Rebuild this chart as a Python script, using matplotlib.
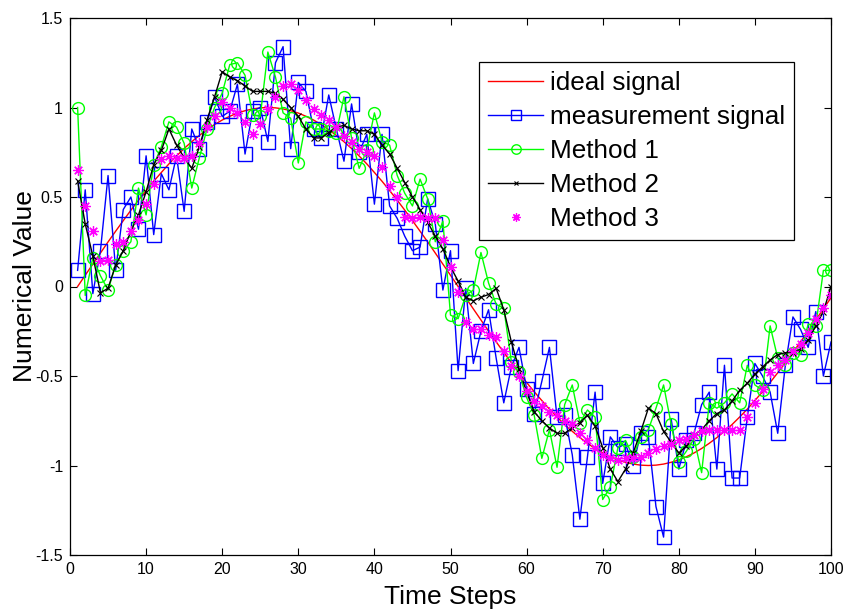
import matplotlib
matplotlib.use("Agg")
import matplotlib.pyplot as plt
from matplotlib.ticker import FuncFormatter

plt.rcParams['font.family'] = ['Liberation Sans', 'DejaVu Sans']
plt.rcParams['axes.unicode_minus'] = False

time_steps = list(range(1, 101))

ideal_signal = [
    0.000, 0.063, 0.125, 0.187, 0.249, 0.309, 0.368, 0.426, 0.482, 0.536,
    0.588, 0.637, 0.685, 0.729, 0.771, 0.809, 0.844, 0.876, 0.905, 0.930,
    0.951, 0.969, 0.982, 0.992, 0.998, 1.000, 0.998, 0.992, 0.982, 0.969,
    0.951, 0.930, 0.905, 0.876, 0.844, 0.809, 0.771, 0.729, 0.685, 0.637,
    0.588, 0.536, 0.482, 0.426, 0.368, 0.309, 0.249, 0.187, 0.125, 0.063,
    0.000, -0.063, -0.125, -0.187, -0.249, -0.309, -0.368, -0.426, -0.482, -0.536,
    -0.588, -0.637, -0.685, -0.729, -0.771, -0.809, -0.844, -0.876, -0.905, -0.930,
    -0.951, -0.969, -0.982, -0.992, -0.998, -1.000, -0.998, -0.992, -0.982, -0.969,
    -0.951, -0.930, -0.905, -0.876, -0.844, -0.809, -0.771, -0.729, -0.685, -0.637,
    -0.588, -0.536, -0.482, -0.426, -0.368, -0.309, -0.249, -0.187, -0.125, -0.063,
]

measurement_signal = [
    0.09, 0.54, -0.04, 0.20, 0.62, 0.09, 0.43, 0.50, 0.32, 0.73,
    0.29, 0.63, 0.54, 0.73, 0.42, 0.88, 0.77, 0.92, 1.06, 0.95,
    0.98, 1.13, 0.74, 0.98, 1.00, 0.81, 1.25, 1.34, 0.77, 1.14,
    1.09, 0.88, 0.83, 1.07, 0.88, 0.70, 1.02, 0.75, 0.85, 0.46,
    0.85, 0.45, 0.38, 0.28, 0.20, 0.22, 0.49, 0.35, -0.02, 0.20,
    -0.47, -0.01, -0.43, -0.25, -0.13, -0.40, -0.65, -0.45, -0.34, -0.57,
    -0.71, -0.53, -0.34, -0.73, -0.72, -0.94, -1.30, -0.95, -0.59, -1.10,
    -0.84, -0.90, -0.88, -1.00, -0.82, -0.84, -1.23, -1.40, -0.74, -1.02,
    -0.86, -0.82, -0.66, -0.59, -1.02, -0.44, -1.07, -1.07, -0.73, -0.43,
    -0.50, -0.59, -0.82, -0.44, -0.17, -0.24, -0.34, -0.14, -0.50, -0.31,
]

method_1 = [
    1.00, -0.05, 0.16, 0.06, -0.02, 0.12, 0.20, 0.25, 0.55, 0.40,
    0.68, 0.78, 0.92, 0.89, 0.80, 0.55, 0.72, 0.88, 1.00, 1.08,
    1.24, 1.25, 1.18, 0.96, 0.95, 1.31, 1.17, 0.97, 0.94, 0.69,
    0.92, 0.88, 0.88, 0.87, 0.86, 1.06, 0.83, 0.66, 0.76, 0.97,
    0.81, 0.79, 0.62, 0.52, 0.45, 0.60, 0.49, 0.25, 0.365, -0.16,
    -0.18, -0.05, -0.02, 0.19, 0.02, -0.10, -0.12, -0.42, -0.48, -0.62,
    -0.72, -0.96, -0.80, -1.01, -0.66, -0.55, -0.76, -0.69, -0.73, -1.19,
    -1.12, -0.90, -0.86, -0.95, -0.84, -0.80, -0.68, -0.55, -0.77, -0.98,
    -0.92, -0.85, -1.04, -0.65, -0.68, -0.65, -0.60, -0.65, -0.44, -0.55,
    -0.58, -0.22, -0.40, -0.44, -0.37, -0.38, -0.21, -0.22, 0.09, 0.09,
]

method_2 = [
    0.59, 0.35, 0.17, -0.035, -0.01, 0.12, 0.20, 0.31, 0.40, 0.53,
    0.68, 0.76, 0.88, 0.79, 0.72, 0.66, 0.78, 0.93, 1.06, 1.20,
    1.17, 1.15, 1.12, 1.09, 1.09, 1.09, 1.08, 1.045, 1.00, 0.95,
    0.88, 0.83, 0.83, 0.86, 0.89, 0.90, 0.88, 0.87, 0.87, 0.85,
    0.79, 0.74, 0.66, 0.58, 0.50, 0.43, 0.36, 0.28, 0.21, 0.11,
    0.03, -0.06, -0.08, -0.06, -0.045, -0.01, -0.13, -0.31, -0.46, -0.59,
    -0.70, -0.75, -0.79, -0.82, -0.82, -0.79, -0.76, -0.72, -0.78, -0.90,
    -1.02, -1.09, -1.02, -0.93, -0.81, -0.68, -0.71, -0.81, -0.87, -0.93,
    -0.89, -0.83, -0.80, -0.75, -0.71, -0.69, -0.64, -0.58, -0.54, -0.49,
    -0.45, -0.41, -0.38, -0.37, -0.37, -0.35, -0.30, -0.22, -0.14, 0.00,
]

method_3 = [
    0.65, 0.45, 0.31, 0.14, 0.15, 0.235, 0.25, 0.31, 0.37, 0.46,
    0.57, 0.71, 0.73, 0.72, 0.72, 0.73, 0.80, 0.89, 0.95, 1.03,
    1.00, 0.97, 0.92, 0.85, 0.91, 0.99, 1.06, 1.12, 1.13, 1.10,
    1.04, 0.99, 0.96, 0.93, 0.89, 0.84, 0.81, 0.77, 0.75, 0.73,
    0.67, 0.56, 0.50, 0.39, 0.38, 0.39, 0.38, 0.38, 0.26, 0.11,
    -0.03, -0.20, -0.24, -0.24, -0.27, -0.28, -0.36, -0.445, -0.50, -0.585,
    -0.64, -0.67, -0.70, -0.72, -0.75, -0.77, -0.82, -0.86, -0.90, -0.94,
    -0.96, -0.97, -0.96, -0.96, -0.95, -0.93, -0.91, -0.89, -0.88, -0.86,
    -0.85, -0.83, -0.81, -0.80, -0.80, -0.80, -0.80, -0.80, -0.73, -0.65,
    -0.575, -0.48, -0.44, -0.41, -0.36, -0.32, -0.26, -0.18, -0.12, -0.045,
]

x_ticks = [0, 10, 20, 30, 40, 50, 60, 70, 80, 90, 100]
y_ticks = [-1.5, -1, -0.5, 0, 0.5, 1, 1.5]
series_labels = ['ideal signal', 'measurement signal', 'Method 1', 'Method 2', 'Method 3']

fig = plt.figure(figsize=(8.47, 6.11), dpi=100)
ax = fig.add_axes([70 / 847, 1 - 555 / 611, 761 / 847, 537 / 611])

ax.plot(time_steps, ideal_signal, color='#ff0000', lw=1.0, label=series_labels[0])
ax.plot(time_steps, measurement_signal, color='#0000ff', lw=1.0, marker='s',
        markersize=9.5, markerfacecolor='none', markeredgecolor='#0000ff',
        markeredgewidth=1.0, label=series_labels[1])
ax.plot(time_steps, method_1, color='#00ff00', lw=1.0, marker='o',
        markersize=8.5, markerfacecolor='none', markeredgecolor='#00ff00',
        markeredgewidth=1.0, label=series_labels[2])
ax.plot(time_steps, method_2, color='black', lw=1.0, marker='x',
        markersize=4, markeredgewidth=0.8, label=series_labels[3])
ax.plot(time_steps, method_3, color='#ff00ff', lw=0, marker=(8, 2, 0),
        markersize=7.5, markeredgewidth=0.9, label=series_labels[4])

ax.set_xlim(0, 100)
ax.set_ylim(-1.5, 1.5)
ax.set_xticks(x_ticks)
ax.set_yticks(y_ticks)
ax.yaxis.set_major_formatter(FuncFormatter(lambda v, p: '%g' % v))
ax.tick_params(direction='in', length=5, width=0.8, top=True, right=True,
               labelsize=11.5, pad=5)
for s in ax.spines.values():
    s.set_linewidth(0.9)

ax.set_xlabel('Time Steps', fontsize=19, labelpad=6)
ax.set_ylabel('Numerical Value', fontsize=19, labelpad=-1)

leg = ax.legend(loc='upper left', bbox_to_anchor=((479 - 70) / 761, (555 - 62) / 537),
                borderaxespad=0, fontsize=18.8, handlelength=2.1, handletextpad=0.25,
                labelspacing=0.38, borderpad=0.35, fancybox=False, framealpha=1,
                edgecolor='black', markerscale=0.8)
leg.get_frame().set_linewidth(0.9)

fig.savefig('out.png', dpi=100)
